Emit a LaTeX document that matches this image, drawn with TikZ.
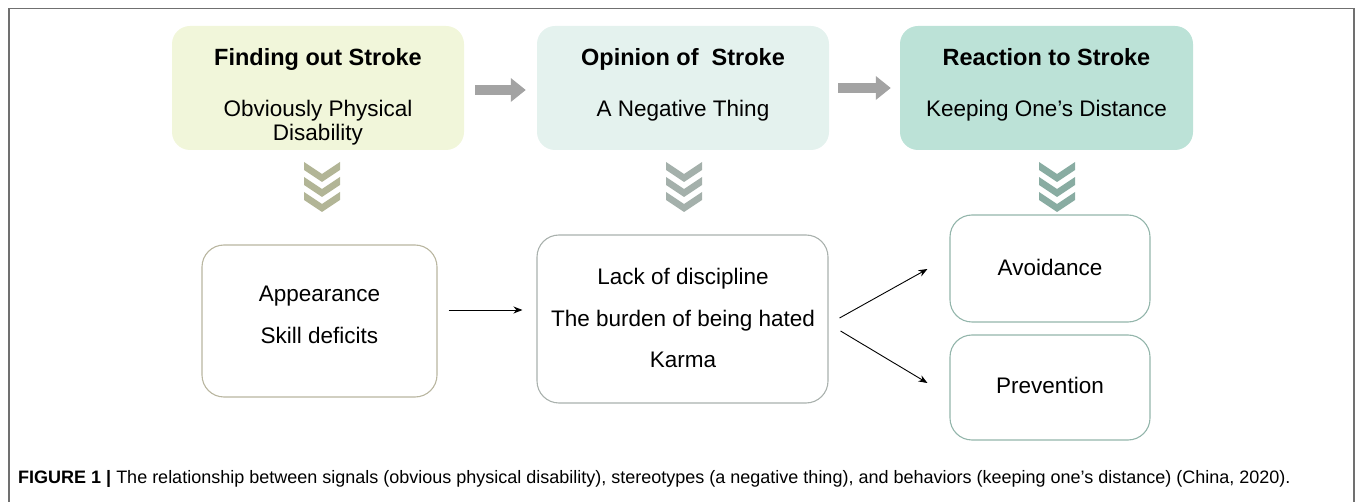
\documentclass[tikz,border=0pt]{standalone}
\usepackage{fontspec}
\setmainfont{Liberation Sans}
\usetikzlibrary{arrows.meta,calc}
\definecolor{boxA}{HTML}{F1F6DA}
\definecolor{boxB}{HTML}{E4F2EE}
\definecolor{boxC}{HTML}{BCE2D7}
\definecolor{chevA}{HTML}{B2B596}
\definecolor{chevB}{HTML}{A4B0AB}
\definecolor{chevC}{HTML}{89ACA2}
\definecolor{edgeA}{HTML}{B9B6A0}
\definecolor{edgeB}{HTML}{A9B1AD}
\definecolor{edgeC}{HTML}{93B5AB}
\definecolor{arrowgray}{HTML}{A3A3A3}
\definecolor{framegray}{HTML}{707070}
\begin{document}
\begin{tikzpicture}[x=1pt,y=-1pt,
  topbox/.style={rounded corners=18pt, minimum width=292pt, minimum height=124pt, inner sep=0pt},
  botbox/.style={draw, rounded corners=22pt, line width=1.1pt, inner sep=0pt},
  txt/.style={anchor=base, inner sep=0pt, font=\fontsize{22.5}{26}\selectfont},
  ttl/.style={anchor=base, inner sep=0pt, font=\bfseries\fontsize{23.5}{27}\selectfont},
  blockarrow/.style={draw=arrowgray, line width=10pt, -{Triangle[width=23pt,length=15pt]}},
  thinarrow/.style={line width=0.9pt, -{Stealth[length=9pt,width=7pt]}},
  chev/.pic={\foreach \k in {0,15,30}{\fill[pic actions] (-18,\k) -- (0,\k+12) -- (18,\k) -- (18,\k+8) -- (0,\k+20) -- (-18,\k+8) -- cycle;}}
]
\useasboundingbox (0,0) rectangle (1355,502);
\draw[framegray, line width=1.5pt] (9,503) -- (9,8.5) -- (1354,8.5) -- (1354,503);

% top boxes
\node[topbox, fill=boxA] (b1) at (318,88) {};
\node[topbox, fill=boxB] (b2) at (683,88) {};
\node[topbox, fill=boxC, minimum width=293pt] (b3) at (1046.5,88) {};

\node[ttl] (t1) at (318,66) {Finding out Stroke};
\node[txt] (s1a) at (318,117) {Obviously Physical};
\node[txt] (s1b) at (318,141) {Disability};
\node[ttl] (t2) at (683,66) {Opinion of\ \ Stroke};
\node[txt] (s2) at (683,117) {A Negative Thing};
\node[ttl] (t3) at (1046.5,66) {Reaction to Stroke};
\node[txt] (s3) at (1046.5,117) {Keeping One’s Distance};

\draw[blockarrow] ($(b1.east)+(11,2)$) -- ($(b2.west)+(-11,2)$);
\draw[blockarrow] ($(b2.east)+(9,0)$) -- ($(b3.west)+(-9,0)$);

% chevrons
\pic[fill=chevA] (c1) at (322,162) {chev};
\pic[fill=chevB] (c2) at (684,162) {chev};
\pic[fill=chevC] (c3) at (1057,162) {chev};

% bottom boxes
\node[botbox, draw=edgeA, minimum width=235pt, minimum height=152pt] (a) at (319.5,321) {};
\node[botbox, draw=edgeB, minimum width=291pt, minimum height=168pt] (b) at (682.5,319) {};
\node[botbox, draw=edgeC, minimum width=200pt, minimum height=107pt] (c) at (1050,268.5) {};
\node[botbox, draw=edgeC, minimum width=200pt, minimum height=105pt] (d) at (1050,387.5) {};

\node[txt] (a1) at (319.5,302) {Appearance};
\node[txt] (a2) at (319.5,344) {Skill deficits};
\node[txt] (bl1) at (683,285) {Lack of discipline};
\node[txt] (bl2) at (683,327) {The burden of being hated};
\node[txt] (bl3) at (683,368) {Karma};
\node[txt] (c1t) at (1050,276) {Avoidance};
\node[txt] (d1t) at (1050,394) {Prevention};

\coordinate (aout) at ($(a.east)+(11,-11)$);
\coordinate (bin) at ($(b.west)+(-14,-9)$);
\draw[thinarrow] (aout) -- (bin);
\coordinate (bout1) at ($(b.east)+(11,-1)$);
\coordinate (bout2) at ($(b.east)+(12,12)$);
\coordinate (cin) at ($(c.west)+(-22,0.5)$);
\coordinate (din) at ($(d.west)+(-22,-4.5)$);
\draw[thinarrow] (bout1) -- (cin);
\draw[thinarrow] (bout2) -- (din);

\node[anchor=base west, inner sep=0pt, font=\fontsize{18}{21}\selectfont] (cap) at (18,483)
  {\textbf{FIGURE 1 |} The relationship between signals (obvious physical disability), stereotypes (a negative thing), and behaviors (keeping one’s distance) (China, 2020).};
\end{tikzpicture}
\end{document}
